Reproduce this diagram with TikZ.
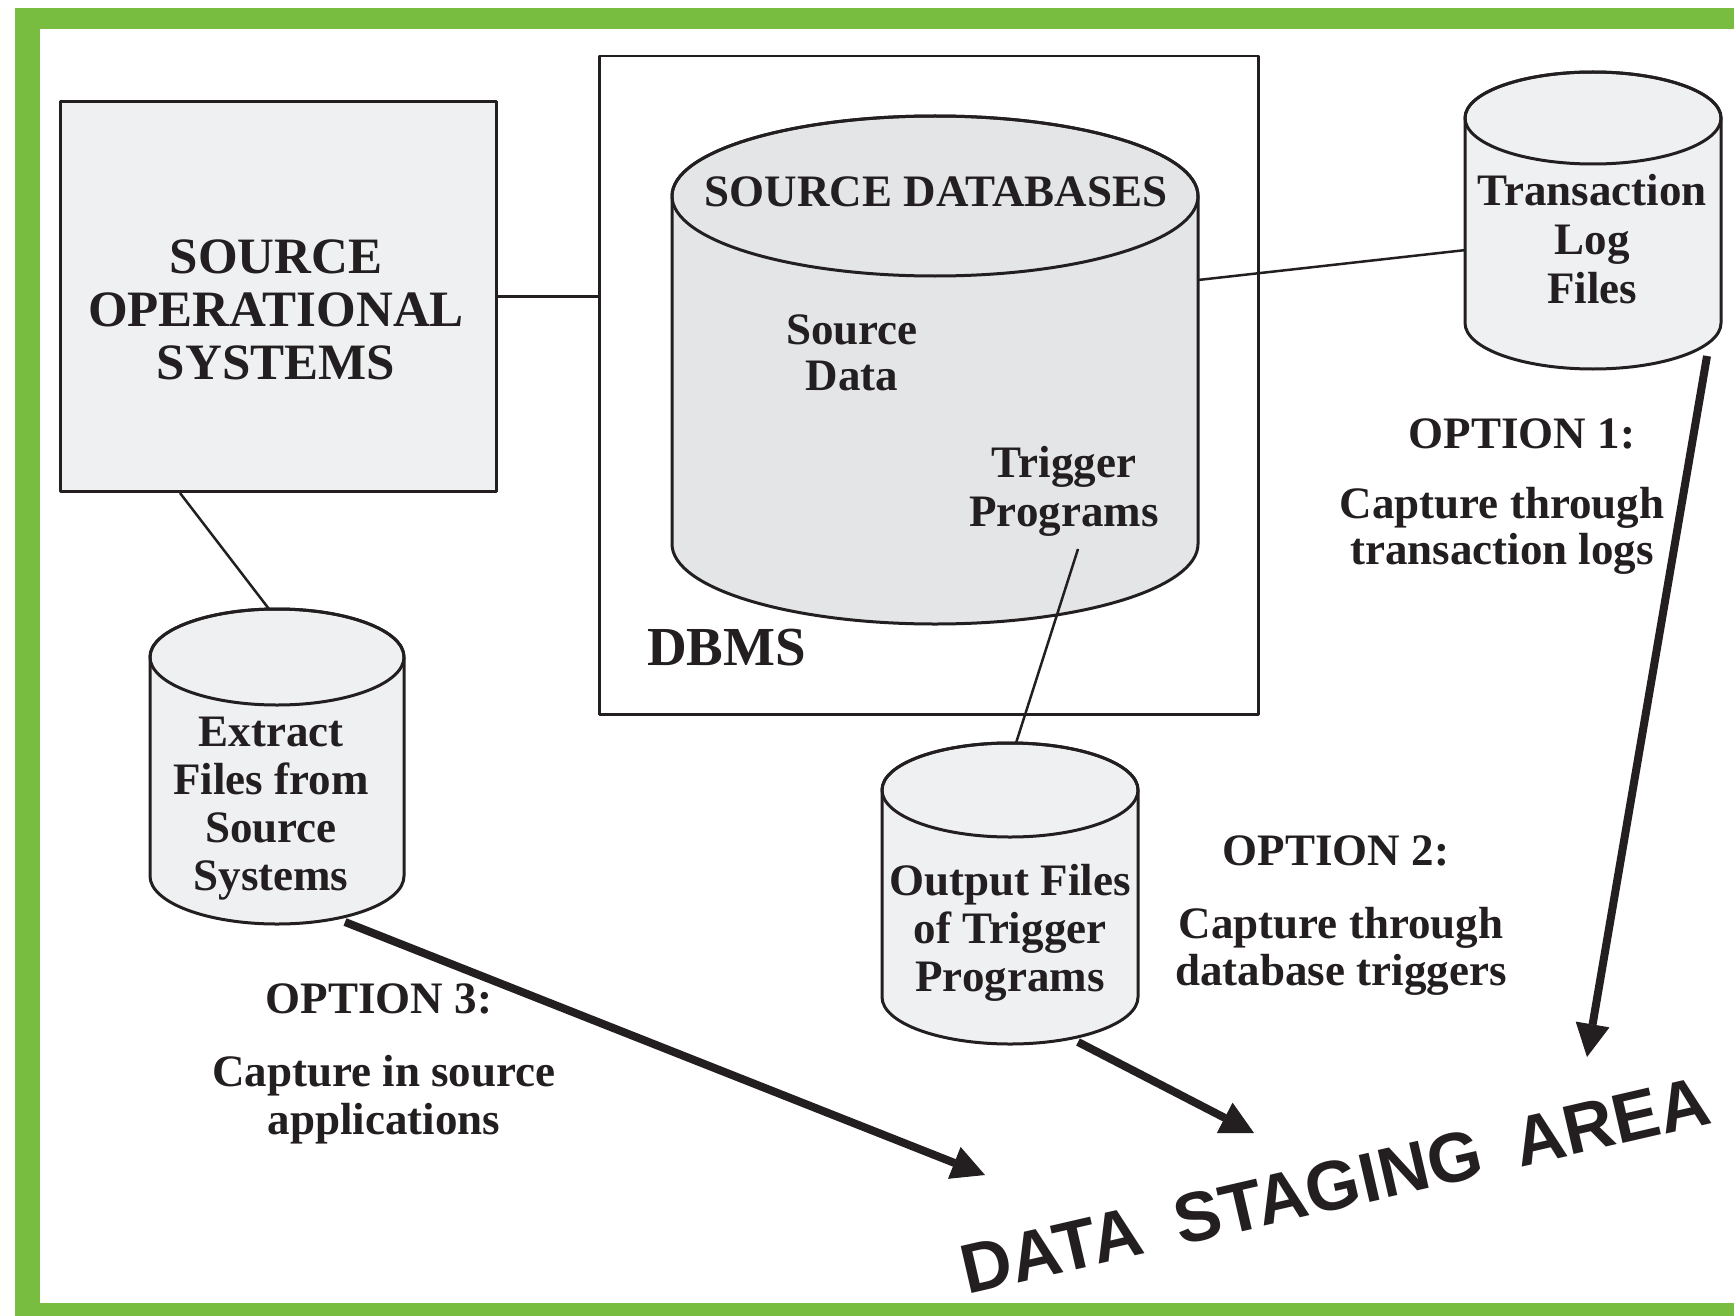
\documentclass[tikz,border=0pt]{standalone}
\usepackage{fontspec}
\setmainfont{Liberation Serif}
\newfontfamily\stagefont{Liberation Sans}
\usetikzlibrary{arrows.meta}

\definecolor{framegreen}{RGB}{120,188,64}
\definecolor{ink}{RGB}{35,31,32}
\definecolor{panel}{RGB}{239,240,242}
\definecolor{dbbody}{RGB}{228,229,231}

% bold serif at a given size / leading
\newcommand\setfs[2]{\fontsize{#1}{#2}\selectfont\bfseries}
% centred stack of lines whose baseline is the first line
\newcommand\stk[1]{\begin{tabular}[t]{@{}c@{}}#1\end{tabular}}
% storage drum: centre x, top centre y, bottom centre y, x radius, y radius, fill
\newcommand\drawdrum[6]{%
  \filldraw[outline, fill=#6] (#1-#4,#2) -- (#1-#4,#3)
    arc[start angle=180, end angle=360, x radius=#4, y radius=#5]
    -- (#1+#4,#2)
    arc[start angle=0, end angle=180, x radius=#4, y radius=#5] -- cycle;
  \draw[outline] (#1,#2) ellipse[x radius=#4, y radius=#5];
}

\begin{document}
\begin{tikzpicture}[x=1pt, y=1pt, line join=round,
  outline/.style={draw=ink, line width=3pt},
  wire/.style={draw=ink, line width=2.5pt},
  flow/.style={draw=ink, line width=8pt,
    -{Triangle[length=33pt, width=34pt, line width=1pt]}},
  txt/.style={text=ink, inner sep=0pt, anchor=base},
]
% page and green frame
\fill[white] (0,0) rectangle (1734,-1316);
\fill[framegreen] (15,-8) rectangle (1734,-1316);
\fill[white] (40,-29) rectangle (1734,-1303);
\useasboundingbox (0,0) rectangle (1734,-1316);

% source operational systems
\node[outline, fill=panel, minimum width=436pt, minimum height=390pt,
      inner sep=0pt, anchor=north west] (sos) at (59,-100) {};
\node[txt, font=\setfs{51}{53}] (sostext) at (276,-273)
  {\stk{SOURCE\\OPERATIONAL\\SYSTEMS}};

% DBMS frame
\node[wire, minimum width=659pt, minimum height=658pt,
      inner sep=0pt, anchor=north west] (dbms) at (598,-55) {};
\node[txt, anchor=base west, font=\setfs{55}{58}] (dbmstext) at (647,-665) {DBMS};

% drums
\drawdrum{935}{-196}{-544}{263}{80}{dbbody}
\drawdrum{1593}{-118}{-323}{128}{46}{panel}
\drawdrum{277}{-657}{-876}{127}{48}{panel}
\drawdrum{1010}{-790}{-997}{128}{47}{panel}

% attachment points on the drums
\coordinate (srcdb-east) at (1198,-280);
\coordinate (tlog-west) at (1466,-250);
\coordinate (tlog-foot) at (1707,-356);
\coordinate (extract-top) at (269,-609);
\coordinate (extract-foot) at (345,-922);
\coordinate (trigger-foot) at (1078,-549);
\coordinate (outfiles-top) at (1016,-743);
\coordinate (outfiles-foot) at (1078,-1042);

% drum labels
\node[txt, font=\setfs{45}{48}] (srcdbtitle) at (936,-207) {SOURCE DATABASES};
\node[txt, font=\setfs{45}{46}] (srcdata) at (852,-344) {\stk{Source\\Data}};
\node[txt, font=\setfs{45}{49}] (trigprog) at (1064,-477) {\stk{Trigger\\Programs}};
\node[txt, font=\setfs{45}{48.5}] (tlogtext) at (1592,-206) {\stk{Transaction\\Log\\Files}};
\node[txt, font=\setfs{45}{48}] (extracttext) at (271,-746)
  {\stk{Extract\\Files from\\Source\\Systems}};
\node[txt, font=\setfs{45}{48}] (outfilestext) at (1010,-895)
  {\stk{Output Files\\of Trigger\\Programs}};

% options
\node[txt, font=\setfs{45}{48}] (opt1) at (1522,-448) {OPTION 1:};
\node[txt, font=\setfs{45}{46}] (opt1text) at (1502,-518)
  {\stk{Capture through\\transaction logs}};
\node[txt, font=\setfs{45}{48}] (opt2) at (1336,-865) {OPTION 2:};
\node[txt, font=\setfs{45}{47}] (opt2text) at (1341,-938)
  {\stk{Capture through\\database triggers}};
\node[txt, font=\setfs{45}{48}] (opt3) at (379,-1013) {OPTION 3:};
\node[txt, font=\setfs{45}{48}] (opt3text) at (384,-1086)
  {\stk{Capture in source\\applications}};

% staging area
\node[txt, anchor=base west, rotate=13,
      font=\stagefont\bfseries\fontsize{70}{74}\selectfont] (staging) at (967,-1295)
  {DATA\hspace{35pt}STAGING\hspace{35pt}AREA};
\coordinate (staging-opt1) at (1587,-1057);
\coordinate (staging-opt2) at (1254,-1133);
\coordinate (staging-opt3) at (985,-1175);

% thin connectors
\draw[wire] (sos.east) -- (sos.east -| dbms.west);
\draw[wire] (srcdb-east) -- (tlog-west);
\draw[wire] (sos.south west) ++(121,0) -- (extract-top);
\draw[wire] (trigger-foot) -- (outfiles-top);

% capture flows
\draw[flow] (tlog-foot) -- (staging-opt1);
\draw[flow] (outfiles-foot) -- (staging-opt2);
\draw[flow] (extract-foot) -- (staging-opt3);
\end{tikzpicture}
\end{document}
